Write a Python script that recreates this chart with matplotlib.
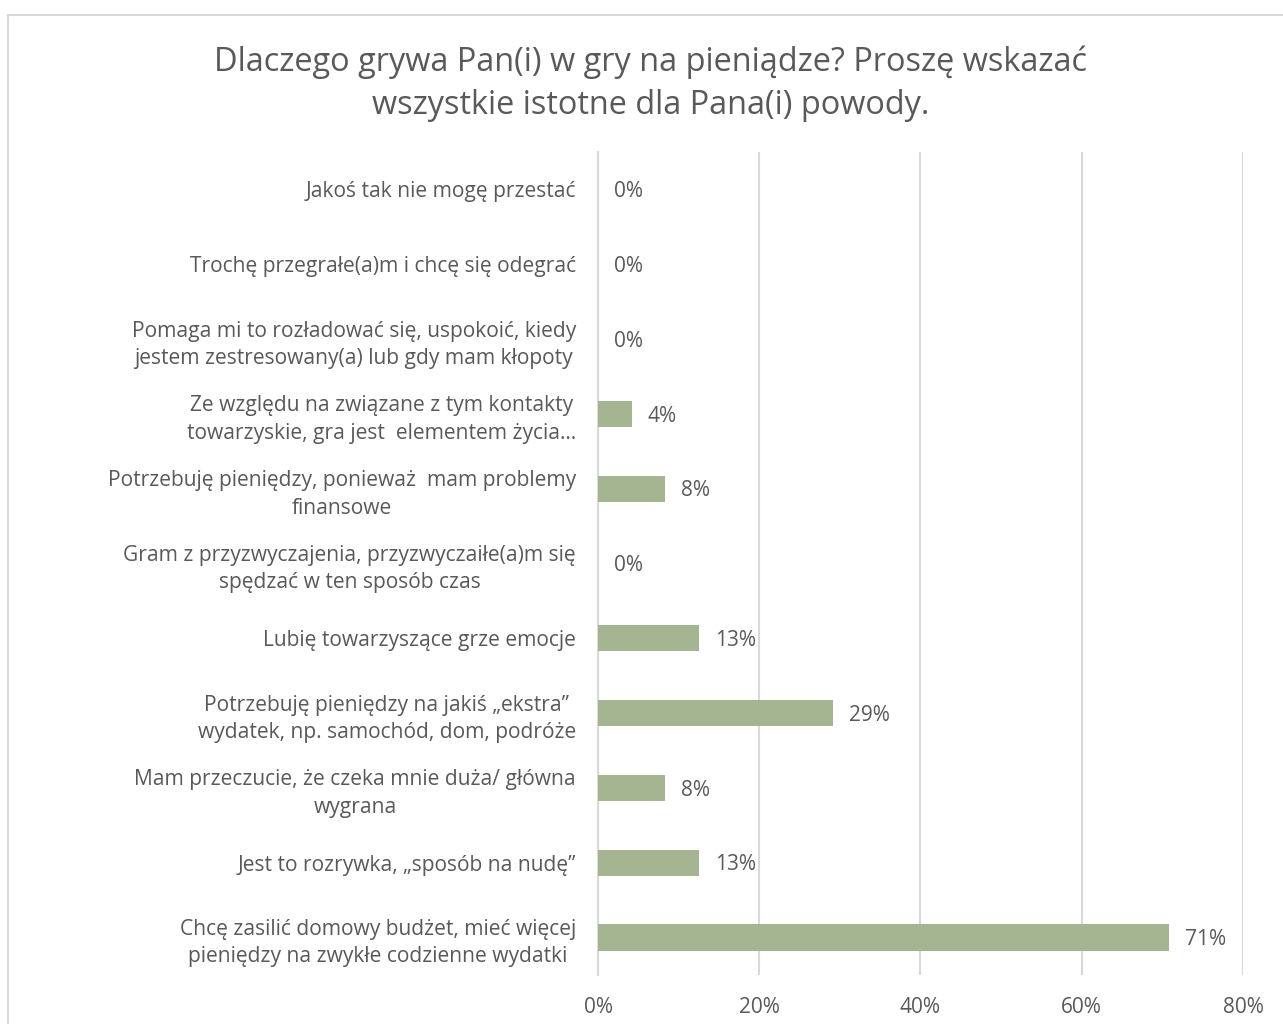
import matplotlib.pyplot as plt
from matplotlib.patches import Rectangle

plt.rcParams['font.family'] = ['Open Sans', 'DejaVu Sans']

title = "Dlaczego grywa Pan(i) w gry na pieniądze? Proszę wskazać\nwszystkie istotne dla Pana(i) powody."

# top to bottom as in the chart
categories = [
    "Jakoś tak nie mogę przestać",
    "Trochę przegrałe(a)m i chcę się odegrać",
    "Pomaga mi to rozładować się, uspokoić, kiedy\njestem zestresowany(a) lub gdy mam kłopoty",
    "Ze względu na związane z tym kontakty\ntowarzyskie, gra jest  elementem życia…",
    "Potrzebuję pieniędzy, ponieważ  mam problemy\nfinansowe",
    "Gram z przyzwyczajenia, przyzwyczaiłe(a)m się\nspędzać w ten sposób czas",
    "Lubię towarzyszące grze emocje",
    "Potrzebuję pieniędzy na jakiś „ekstra”\nwydatek, np. samochód, dom, podróże",
    "Mam przeczucie, że czeka mnie duża/ główna\nwygrana",
    "Jest to rozrywka, „sposób na nudę”",
    "Chcę zasilić domowy budżet, mieć więcej\npieniędzy na zwykłe codzienne wydatki",
]
values = [0, 0, 0, 4.17, 8.33, 0, 12.5, 29.17, 8.33, 12.5, 70.83]
xticks = [0, 20, 40, 60, 80]

text_col = '#595959'
bar_col = '#a5b592'
grid_col = '#d9d9d9'

fig = plt.figure(figsize=(12.83, 10.24), dpi=100)
ax = fig.add_axes([0.4661, 0.0479, 0.5027, 0.8037])

# chart border (cropped at right and bottom)
fig.patches.append(Rectangle((8/1283, -0.1), 1.2, 0.1 + (1024-15)/1024, transform=fig.transFigure,
                             fill=False, edgecolor=grid_col, linewidth=1.5, zorder=0))

y = list(range(len(categories)))[::-1]
ax.barh(y, values, height=0.35, color=bar_col, zorder=3)
for yi, v in zip(y, values):
    ax.text(v + 2.0, yi - 0.03, f"{int(v + 0.5)}%", va='center', ha='left', fontsize=15, color=text_col)

ax.set_xlim(0, 80)
ax.set_ylim(-0.5, len(categories) - 0.5)
ax.set_xticks(xticks)
ax.set_xticklabels([f"{t}%" for t in xticks], fontsize=15, color=text_col)
ax.set_yticks(y)
ax.set_yticklabels(categories, fontsize=15.1, color=text_col, multialignment='center', linespacing=1.4)
ax.tick_params(axis='both', length=0)
ax.tick_params(axis='y', pad=16)
ax.tick_params(axis='x', pad=16)
ax.grid(axis='x', color=grid_col, linewidth=1.5, zorder=0)
for s in ['top', 'right', 'bottom']:
    ax.spines[s].set_visible(False)
ax.spines['left'].set_color(grid_col)
ax.spines['left'].set_linewidth(1.5)

fig.text(651/1283, 1 - 84/1024, title, ha='center', va='center', fontsize=23.4, color=text_col,
         linespacing=1.4)

fig.savefig('out.png', dpi=100)
